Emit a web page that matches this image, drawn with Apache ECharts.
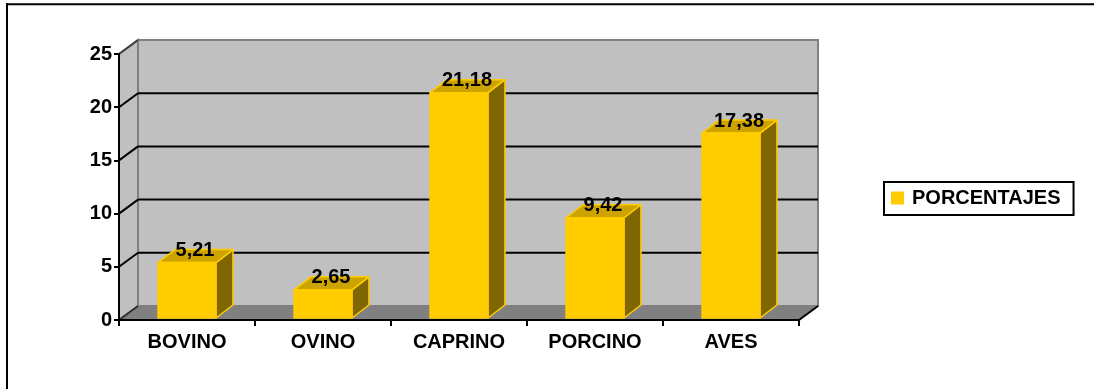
<!DOCTYPE html>
<html>
<head>
<meta charset="utf-8">
<script src="https://cdn.jsdelivr.net/npm/echarts@6/dist/echarts.min.js"></script>
<style>
  html, body { margin: 0; padding: 0; background: #ffffff; }
  #chart { width: 1094px; height: 389px; }
</style>
</head>
<body>
<div id="chart"></div>
<script>
// Data
const categories = ['BOVINO', 'OVINO', 'CAPRINO', 'PORCINO', 'AVES'];
const porcentajes = [5.21, 2.65, 21.18, 9.42, 17.38];
const seriesName = 'PORCENTAJES';
const yTicks = [0, 5, 10, 15, 20, 25];

// 3D look: wall depth and bar depth in pixels
const DX = 19, DY = -14;      // walls / floor
const BDX = 17, BDY = -13;    // bars
const LIFT = 2;               // bars sit slightly behind the front plane
const FONT = "'Liberation Sans', Arial, sans-serif";

function fmt(v) { return v.toFixed(2).replace('.', ','); }

function renderWalls(params, api) {
  const cs = params.coordSys;
  const x = cs.x, y = cs.y, w = cs.width, h = cs.height;
  const kids = [];
  // back wall
  kids.push({ type: 'rect', shape: { x: x + DX, y: y + DY, width: w, height: h },
    style: { fill: '#C0C0C0', stroke: '#808080', lineWidth: 2 } });
  // floor
  kids.push({ type: 'polygon', shape: { points: [[x, y + h], [x + w, y + h], [x + w + DX, y + h + DY], [x + DX, y + h + DY]] },
    style: { fill: '#808080' } });
  // left side wall
  kids.push({ type: 'polygon', shape: { points: [[x, y], [x + DX, y + DY], [x + DX, y + h + DY], [x, y + h]] },
    style: { fill: '#C0C0C0', stroke: '#808080', lineWidth: 2 } });
  // gridlines on back and side walls
  const maxV = yTicks[yTicks.length - 1];
  yTicks.forEach(function (v) {
    const yy = api.coord([0, v])[1];
    if (v > 0 && v < maxV) {
      kids.push({ type: 'line', shape: { x1: x + DX, y1: yy + DY, x2: x + w + DX, y2: yy + DY },
        style: { stroke: '#000', lineWidth: 2 } });
    }
    if (v > 0) {
      kids.push({ type: 'line', shape: { x1: x, y1: yy, x2: x + DX, y2: yy + DY },
        style: { stroke: v < maxV ? '#000' : '#404040', lineWidth: 2 } });
    }
  });
  // floor edges
  kids.push({ type: 'line', shape: { x1: x, y1: y + h, x2: x + DX, y2: y + h + DY },
    style: { stroke: '#303030', lineWidth: 2 } });
  kids.push({ type: 'line', shape: { x1: x + w, y1: y + h, x2: x + w + DX, y2: y + h + DY },
    style: { stroke: '#000', lineWidth: 2 } });
  return { type: 'group', children: kids };
}

function renderBar(params, api) {
  const idx = api.value(0), v = api.value(1);
  const top = api.coord([idx, v]);
  const base = api.coord([idx, 0]);
  const halfW = api.size([1, 0])[0] * 0.213;
  const cx = top[0];
  const x0 = cx - halfW, x1 = cx + halfW;
  const yT = top[1] - LIFT, yB = base[1] - LIFT;
  const edge = { stroke: '#FFCC00', lineWidth: 1.5, lineJoin: 'round' };
  return {
    type: 'group',
    children: [
      { type: 'polygon', shape: { points: [[x1, yT], [x1 + BDX, yT + BDY], [x1 + BDX, yB + BDY], [x1, yB]] },
        style: Object.assign({ fill: '#806600' }, edge) },
      { type: 'polygon', shape: { points: [[x0, yT], [x1, yT], [x1 + BDX, yT + BDY], [x0 + BDX, yT + BDY]] },
        style: Object.assign({ fill: '#CCA300' }, edge) },
      { type: 'rect', shape: { x: x0, y: yT, width: x1 - x0, height: yB - yT },
        style: Object.assign({ fill: '#FFCC00' }, edge) },
      { type: 'text', x: cx + 8, y: yT - 12,
        style: { text: fmt(v), fill: '#000', font: 'bold 20px ' + FONT, align: 'center', verticalAlign: 'middle' } }
    ]
  };
}

const chart = echarts.init(document.getElementById('chart'), null, { renderer: 'canvas' });
chart.setOption({
  animation: false,
  backgroundColor: '#ffffff',
  grid: { left: 119, right: 295, top: 54, bottom: 69 },
  legend: {
    data: [seriesName],
    left: 884, top: 182,
    orient: 'vertical',
    padding: [6, 13, 7, 7],
    itemWidth: 13, itemHeight: 13,
    icon: 'rect',
    borderColor: '#000', borderWidth: 2,
    textStyle: { fontFamily: FONT, fontSize: 20, fontWeight: 'bold', color: '#000', padding: [0, 0, 0, 3] }
  },
  xAxis: {
    type: 'category',
    data: categories,
    z: 10,
    axisLine: { lineStyle: { color: '#000', width: 2 } },
    axisTick: { show: true, length: 6, lineStyle: { color: '#000', width: 2 } },
    axisLabel: { margin: 12, fontFamily: FONT, fontSize: 20, fontWeight: 'bold', color: '#000' },
    splitLine: { show: false }
  },
  yAxis: {
    type: 'value',
    min: 0, max: 25, interval: 5,
    z: 10,
    axisLine: { show: true, lineStyle: { color: '#000', width: 2 } },
    axisTick: { show: true, length: 5, lineStyle: { color: '#000', width: 2 } },
    axisLabel: { margin: 7, fontFamily: FONT, fontSize: 20, fontWeight: 'bold', color: '#000' },
    splitLine: { show: false }
  },
  graphic: [
    { type: 'line', shape: { x1: 6, y1: 4.3, x2: 1094, y2: 4.3 }, style: { stroke: '#000', lineWidth: 2 } },
    { type: 'line', shape: { x1: 7, y1: 3.3, x2: 7, y2: 389 }, style: { stroke: '#000', lineWidth: 2 } }
  ],
  series: [
    {
      name: 'walls',
      type: 'custom',
      z: 1,
      silent: true,
      clip: false,
      renderItem: renderWalls,
      data: [[0, 0]]
    },
    {
      name: seriesName,
      type: 'custom',
      z: 3,
      clip: false,
      itemStyle: { color: '#FFCC00' },
      encode: { x: 0, y: 1 },
      renderItem: renderBar,
      data: categories.map(function (c, i) { return [i, porcentajes[i]]; })
    }
  ]
});
</script>
</body>
</html>
